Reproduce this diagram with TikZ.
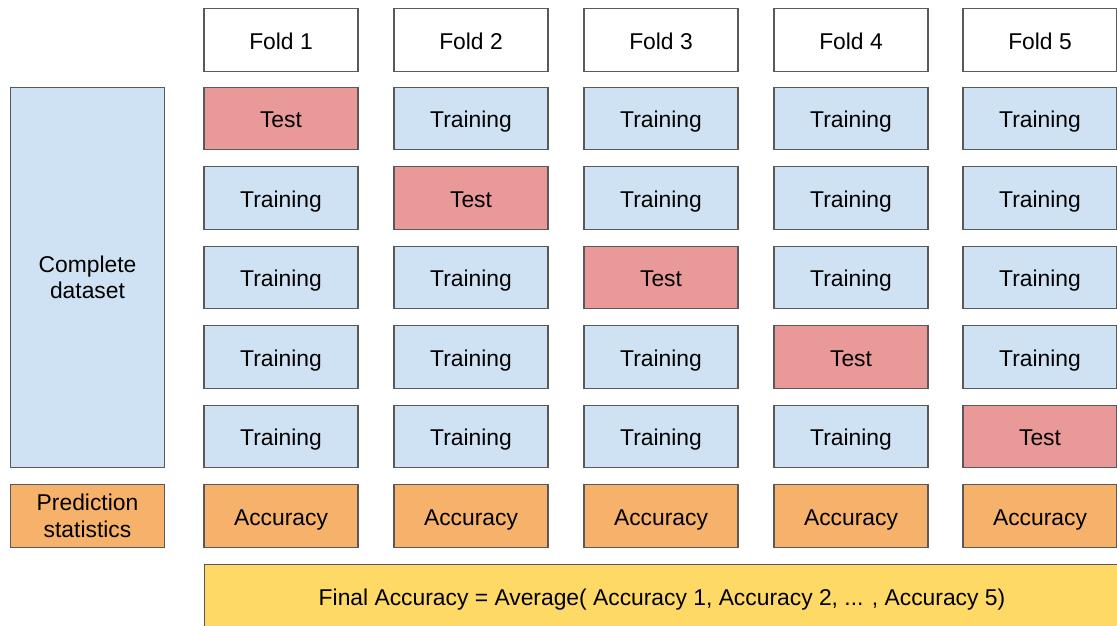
\documentclass[tikz,border=0pt]{standalone}
\usepackage{fontspec}
\setmainfont{Liberation Sans}
\definecolor{trainblue}{RGB}{207,226,243}
\definecolor{testred}{RGB}{234,153,153}
\definecolor{accorange}{RGB}{246,178,107}
\definecolor{finalyellow}{RGB}{255,217,102}
\definecolor{edgegray}{RGB}{89,89,89}
\begin{document}
\begin{tikzpicture}[x=0.02cm, y=-0.02cm,
  box/.style={draw=edgegray, line width=0.6pt, minimum width=3.08cm, minimum height=1.25cm,
    inner sep=0pt, align=center, font=\fontsize{13}{15}\selectfont},
  oneline/.style={box, text height=10.8pt, text depth=0pt},
  head/.style={oneline, fill=white},
  train/.style={oneline, fill=trainblue},
  test/.style={oneline, fill=testred},
  acc/.style={oneline, fill=accorange}]
\useasboundingbox (0,0) rectangle (1117,626);
\fill [white] (0,0) rectangle (1117,626);
\clip (0,0) rectangle (1117,626);

% left column
\node [box, fill=trainblue, minimum height=7.62cm] (D) at (87.5,277.5) {Complete\\dataset};
\node [box, fill=accorange] (P) at (87.5,516) {Prediction\\statistics};

% fold headers
\node [head] (F1) at (281,40) {Fold 1};
\node [head] (F2) at (471,40) {Fold 2};
\node [head] (F3) at (661,40) {Fold 3};
\node [head] (F4) at (851,40) {Fold 4};
\node [head] (F5) at (1040,40) {Fold 5};

% fold 1
\node [test]  (A1) at (281,118.5) {Test};
\node [train] (A2) at (281,198) {Training};
\node [train] (A3) at (281,277.5) {Training};
\node [train] (A4) at (281,357) {Training};
\node [train] (A5) at (281,436.5) {Training};

% fold 2
\node [train] (B1) at (471,118.5) {Training};
\node [test]  (B2) at (471,198) {Test};
\node [train] (B3) at (471,277.5) {Training};
\node [train] (B4) at (471,357) {Training};
\node [train] (B5) at (471,436.5) {Training};

% fold 3
\node [train] (C1) at (661,118.5) {Training};
\node [train] (C2) at (661,198) {Training};
\node [test]  (C3) at (661,277.5) {Test};
\node [train] (C4) at (661,357) {Training};
\node [train] (C5) at (661,436.5) {Training};

% fold 4
\node [train] (E1) at (851,118.5) {Training};
\node [train] (E2) at (851,198) {Training};
\node [train] (E3) at (851,277.5) {Training};
\node [test]  (E4) at (851,357) {Test};
\node [train] (E5) at (851,436.5) {Training};

% fold 5
\node [train] (G1) at (1040,118.5) {Training};
\node [train] (G2) at (1040,198) {Training};
\node [train] (G3) at (1040,277.5) {Training};
\node [train] (G4) at (1040,357) {Training};
\node [test]  (G5) at (1040,436.5) {Test};

% accuracies
\node [acc] (H1) at (281,516) {Accuracy};
\node [acc] (H2) at (471,516) {Accuracy};
\node [acc] (H3) at (661,516) {Accuracy};
\node [acc] (H4) at (851,516) {Accuracy};
\node [acc] (H5) at (1040,516) {Accuracy};

\node [oneline, fill=finalyellow, minimum width=18.32cm] (K) at (662,596)
  {Final Accuracy = Average( Accuracy 1, Accuracy 2, ... , Accuracy 5)};

\end{tikzpicture}
\end{document}
